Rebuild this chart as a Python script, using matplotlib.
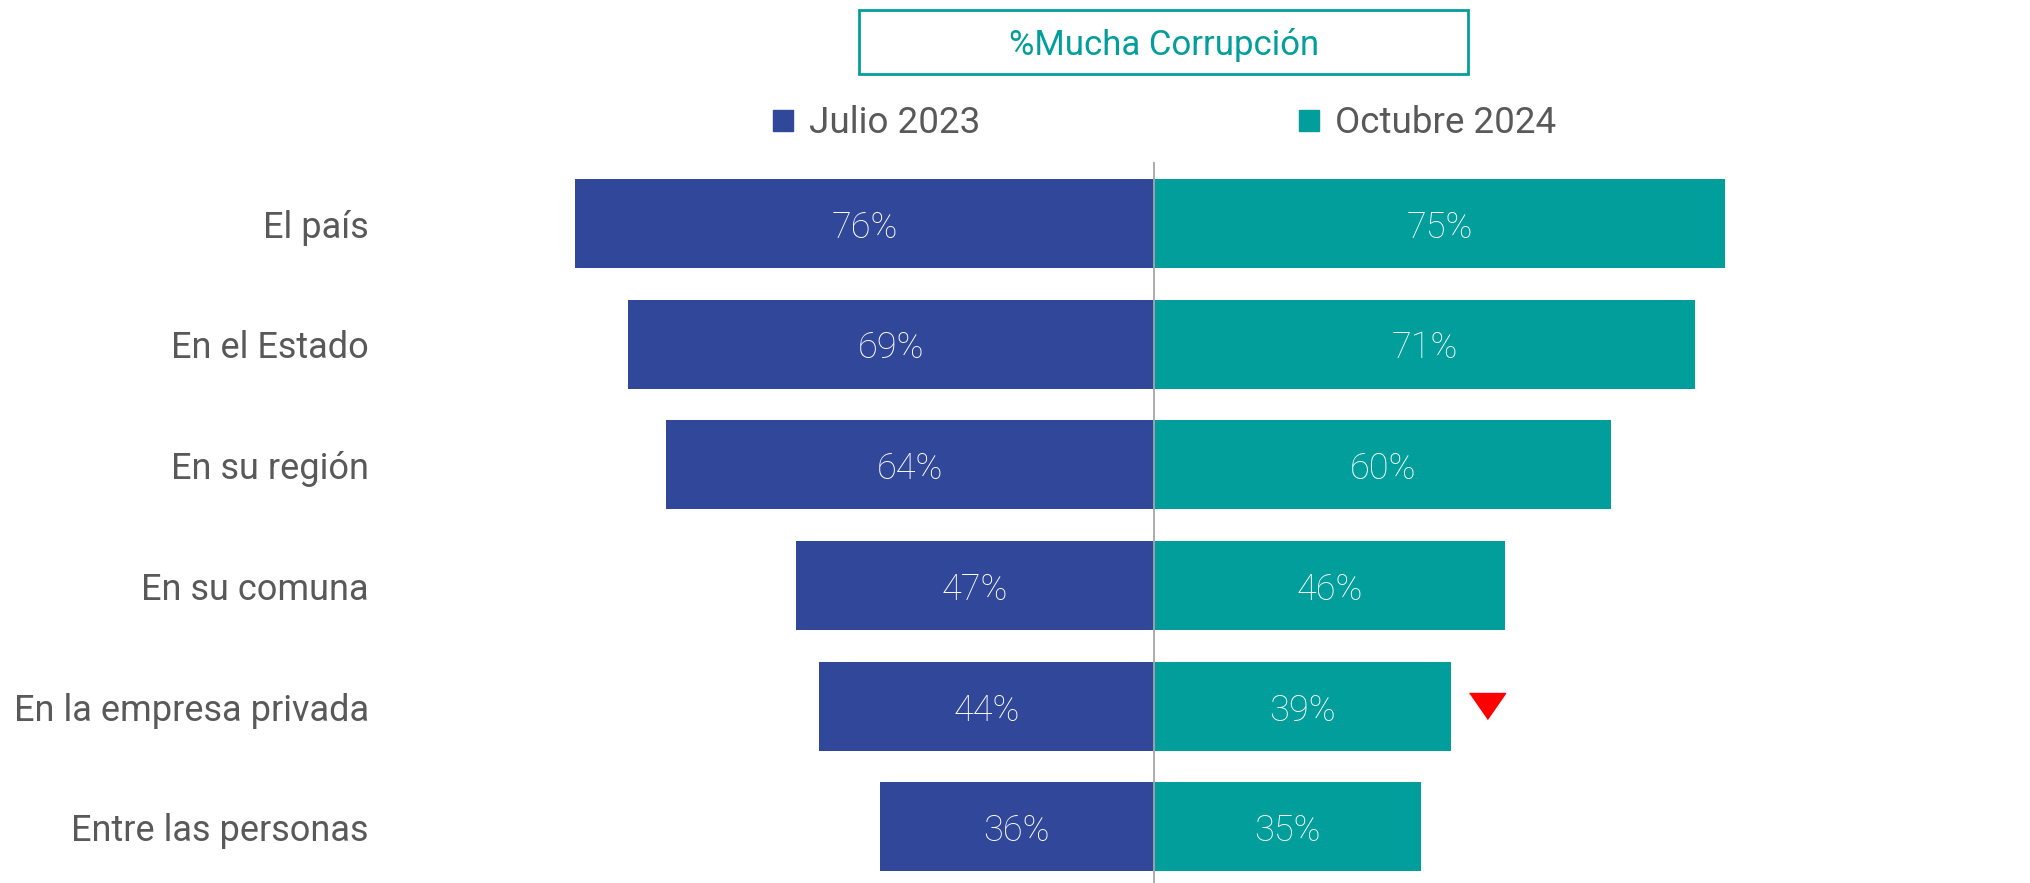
import matplotlib
matplotlib.use("Agg")
import matplotlib.pyplot as plt
from matplotlib.patches import Rectangle

plt.rcParams['font.family'] = ['Roboto', 'DejaVu Sans']

categories = ["El país", "En el Estado", "En su región", "En su comuna",
              "En la empresa privada", "Entre las personas"]
julio_2023 = [76, 69, 64, 47, 44, 36]
octubre_2024 = [75, 71, 60, 46, 39, 35]
series_names = ["Julio 2023", "Octubre 2024"]
title = "%Mucha Corrupción"
down_flag = [False, False, False, False, True, False]

BLUE = "#31479A"
TEAL = "#029E9B"
GRAY = "#595959"

W, H = 2031, 883
fig = plt.figure(figsize=(W / 100, H / 100), dpi=100)
ax = fig.add_axes([0, 0, 1, 1])

# pixel mapping
x0_px = 1154.0
px_per = 7.62
row0_px = 223.5
row_step = 120.7
ax.set_xlim(-x0_px / px_per, (W - x0_px) / px_per)
ax.set_ylim((H - row0_px) / row_step, -row0_px / row_step)
ax.axis('off')

ys = list(range(len(categories)))
bar_h = 89 / row_step
ax.barh(ys, [-v for v in julio_2023], height=bar_h, color=BLUE, linewidth=0)
ax.barh(ys, octubre_2024, height=bar_h, color=TEAL, linewidth=0)

for y, v in zip(ys, julio_2023):
    ax.text(-v / 2, y + 0.035, f"{v}%", ha='center', va='center', color='white',
            fontsize=26, fontweight='light')
for y, v in zip(ys, octubre_2024):
    ax.text(v / 2, y + 0.035, f"{v}%", ha='center', va='center', color='white',
            fontsize=26, fontweight='light')

# category labels
label_x = 369 / W
for y, c in zip(ys, categories):
    ax.text(label_x, y + 0.035, c, transform=ax.get_yaxis_transform(), ha='right',
            va='center', color=GRAY, fontsize=26)

# center line
ax.plot([0, 0], [(163 - row0_px) / row_step, (H - row0_px) / row_step],
        color="#A6A6A6", linewidth=1.3, zorder=3)

# down marker
tri = [(-1, 0.72), (1, 0.72), (0, -0.72)]
for y, v, f in zip(ys, octubre_2024, down_flag):
    if f:
        ax.plot([v + 4.7], [y + 0.0], marker=tri, markersize=26,
                color="#FF0000", linestyle='none')

# title box
fig.patches.append(Rectangle((859 / W, 1 - 74 / H), (1468 - 859) / W, 64 / H,
                             transform=fig.transFigure, fill=False,
                             edgecolor=TEAL, linewidth=2))
fig.text(1164 / W, 1 - 45 / H, title, ha='center', va='center', color=TEAL,
         fontsize=25)

# legend
ly = 1 - 123 / H
sq = 20
for xs, name, col in [(773, series_names[0], BLUE), (1299, series_names[1], TEAL)]:
    fig.patches.append(Rectangle((xs / W, 1 - 131 / H), sq / W, 21 / H,
                                 transform=fig.transFigure, color=col))
    fig.text((xs + 36) / W, ly, name, ha='left', va='center', color=GRAY,
             fontsize=26.5)

fig.savefig("out.png", dpi=100, facecolor='white')
